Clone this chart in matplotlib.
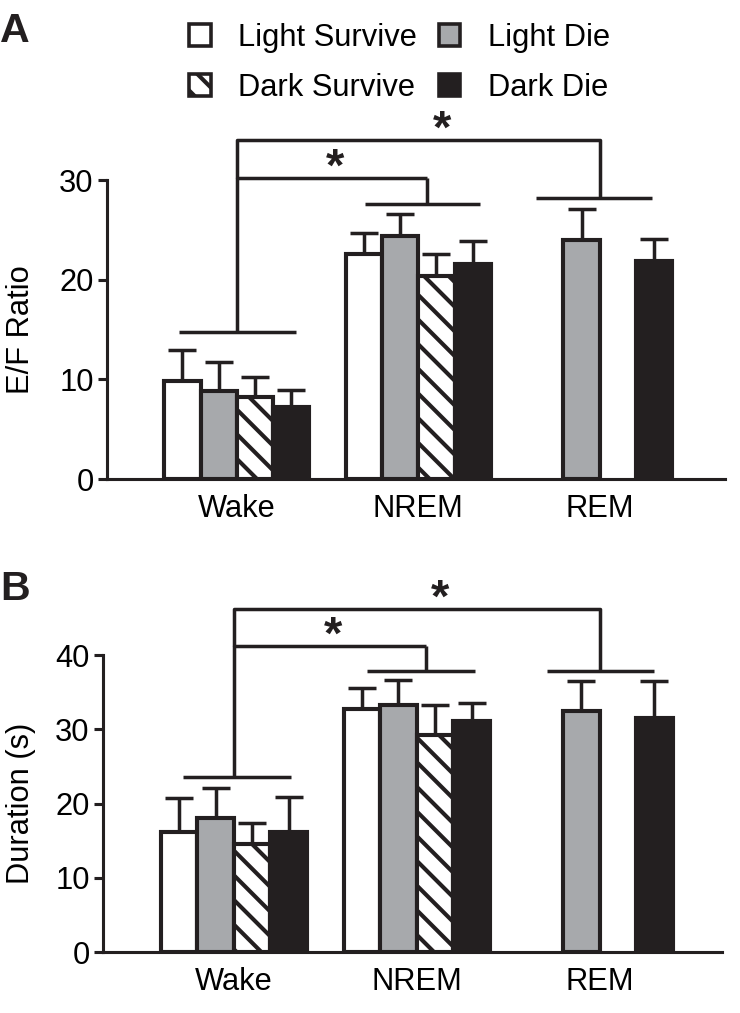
import numpy as np
import matplotlib.pyplot as plt
from matplotlib.patches import Patch

plt.rcParams['font.family'] = ['Liberation Sans', 'DejaVu Sans']
plt.rcParams['hatch.linewidth'] = 4
plt.rcParams['hatch.color'] = '#231f20'

# data
groups = ["Wake", "NREM", "REM"]
series = ["Light Survive", "Light Die", "Dark Survive", "Dark Die"]

ef_light_survive = [9.8, 22.6, np.nan]
ef_light_die = [8.85, 24.4, 24.0]
ef_dark_survive = [8.25, 20.4, np.nan]
ef_dark_die = [7.2, 21.6, 21.9]
ef_light_survive_err = [3.1, 2.1, np.nan]
ef_light_die_err = [2.85, 2.2, 3.1]
ef_dark_survive_err = [2.0, 2.2, np.nan]
ef_dark_die_err = [1.7, 2.3, 2.2]

dur_light_survive = [16.2, 32.7, np.nan]
dur_light_die = [18.1, 33.3, 32.4]
dur_dark_survive = [14.5, 29.2, np.nan]
dur_dark_die = [16.2, 31.1, 31.5]
dur_light_survive_err = [4.6, 2.9, np.nan]
dur_light_die_err = [4.0, 3.3, 4.1]
dur_dark_survive_err = [2.9, 4.1, np.nan]
dur_dark_die_err = [4.7, 2.4, 5.0]

# significance bracket heights (group line, inner bracket, outer bracket)
ef_group_lines = [14.8, 27.6, 28.2]
ef_brackets = [30.2, 34.0]
dur_group_lines = [23.6, 37.8, 37.8]
dur_brackets = [41.2, 46.2]

INK = '#231f20'
GRAY = '#a7a9ac'
styles = [
    dict(facecolor='white', hatch=None),
    dict(facecolor=GRAY, hatch=None),
    dict(facecolor='white', hatch='\\'),
    dict(facecolor=INK, hatch=None),
]
W = 0.2
FS = 30

fig = plt.figure(figsize=(10, 1013 / 74), dpi=74)


def draw_panel(ax, means, errs, ymax, ystep, ylabel, group_lines, brackets, line_spans,
               xlim, label_x):
    x = np.arange(len(groups))
    for i, (m, e, st) in enumerate(zip(means, errs, styles)):
        m = np.asarray(m, float)
        e = np.asarray(e, float)
        ok = ~np.isnan(m)
        xi = x[ok] + (i - 1.5) * W
        ax.errorbar(xi, m[ok], yerr=[np.zeros(ok.sum()), e[ok]], fmt='none',
                    ecolor=INK, elinewidth=3.4, capsize=14, capthick=3.4, zorder=1,
                    clip_on=False)
        ax.bar(xi, m[ok], width=W, color=st['facecolor'], hatch=st['hatch'],
               edgecolor=INK, linewidth=4, zorder=2)

    ax.set_xlim(*xlim)
    ax.set_ylim(0, ymax)
    ax.set_yticks(np.arange(0, ymax + 1, ystep))
    ax.set_xticks(x)
    ax.set_xticklabels(groups, fontsize=FS)
    ax.tick_params(axis='x', length=0, pad=15)
    ax.tick_params(axis='y', length=9, width=3, labelsize=FS, pad=4, color=INK)
    ax.set_ylabel(ylabel, fontsize=FS)
    ax.yaxis.set_label_coords(label_x, 0.5)
    for s in ['top', 'right']:
        ax.spines[s].set_visible(False)
    for s in ['left', 'bottom']:
        ax.spines[s].set_linewidth(3)
        ax.spines[s].set_color(INK)

    # significance brackets
    kw = dict(color=INK, lw=3.4, clip_on=False, solid_capstyle='butt')
    verts = [0.0, 1.05, 2.0]
    for (a, b), yl in zip(line_spans, group_lines):
        ax.plot([a, b], [yl, yl], **kw)
    inner, outer = brackets
    ax.plot([verts[1], verts[1]], [group_lines[1], inner], **kw)
    ax.plot([verts[0], verts[0], verts[1]], [group_lines[0], inner, inner], **kw)
    ax.plot([verts[0], verts[0], verts[2], verts[2]],
            [inner, outer, outer, group_lines[2]], **kw)
    span = ymax
    ax.text(0.54, inner + 0.03 * span, '*', fontsize=46, fontweight='bold',
            ha='center', va='center', color=INK)
    ax.text(1.13, outer + 0.03 * span, '*', fontsize=46, fontweight='bold',
            ha='center', va='center', color=INK)


axA = fig.add_axes([0.1446, 0.5271, 0.835, 0.2952])
draw_panel(axA,
           [ef_light_survive, ef_light_die, ef_dark_survive, ef_dark_die],
           [ef_light_survive_err, ef_light_die_err, ef_dark_survive_err, ef_dark_die_err],
           30, 10, 'E/F Ratio', ef_group_lines, ef_brackets,
           [(-0.32, 0.325), (0.705, 1.34), (1.65, 2.29)], (-0.716, 2.69), -0.115)

axB = fig.add_axes([0.1392, 0.0602, 0.8365, 0.2932])
draw_panel(axB,
           [dur_light_survive, dur_light_die, dur_dark_survive, dur_dark_die],
           [dur_light_survive_err, dur_light_die_err, dur_dark_survive_err, dur_dark_die_err],
           40, 10, 'Duration (s)', dur_group_lines, dur_brackets,
           [(-0.28, 0.31), (0.73, 1.32), (1.71, 2.30)], (-0.716, 2.67), -0.108)

fig.text(0.0, 0.9585, 'A', fontsize=40, fontweight='bold', color=INK, va='baseline')
fig.text(0.0, 0.4077, 'B', fontsize=40, fontweight='bold', color=INK, va='baseline')

order = [0, 2, 1, 3]
handles = [Patch(facecolor=styles[i]['facecolor'], hatch=styles[i]['hatch'],
                 edgecolor=INK, linewidth=3.5) for i in order]
labels = [series[i] for i in order]
fig.legend(handles, labels, ncol=2, loc='center', bbox_to_anchor=(0.54, 0.938),
           frameon=False, fontsize=FS, handlelength=0.7, handleheight=0.7,
           handletextpad=0.9, columnspacing=0.7, labelspacing=0.65, borderpad=0)

fig.savefig('out.png', dpi=74)
